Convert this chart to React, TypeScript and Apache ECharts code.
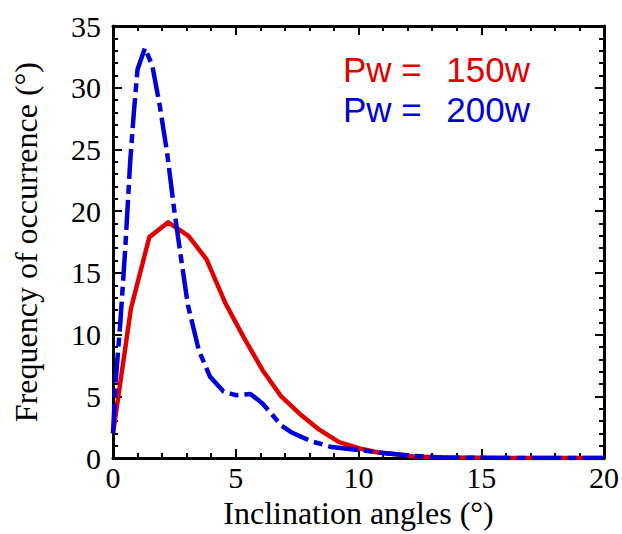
import React, { useEffect, useRef } from "react";
import * as echarts from "echarts";

const redX = [0, 0.73, 1.48, 2.25, 3.07, 3.81, 4.59, 5.32, 6.1, 6.85, 7.6, 8.4, 9.21, 10.0, 10.8, 11.65, 12.3, 13.5, 15, 20];
const redY = [2, 12.1, 17.9, 19.1, 18.0, 16.1, 12.5, 9.8, 7.1, 5.0, 3.6, 2.3, 1.3, 0.8, 0.45, 0.3, 0.12, 0.05, 0.02, 0];

const blueX = [0, 0.1, 0.3, 0.5, 0.7, 0.85, 1.0, 1.3, 1.6, 1.9, 2.2, 2.5, 2.75, 3.05, 3.5, 3.95, 4.5, 5.0, 5.6, 6.1, 6.45, 6.85, 7.3, 8.1, 8.9, 10.0, 11.1, 12.2, 13.4, 15.2, 20];
const blueY = [2, 6, 11, 17, 24, 28, 31.5, 33.2, 31.8, 28.6, 24.8, 20, 16.5, 12.4, 8.7, 6.6, 5.4, 5.1, 5.2, 4.4, 3.6, 2.65, 2.05, 1.35, 0.9, 0.66, 0.4, 0.18, 0.05, 0.02, 0];

const seriesNames = ["Pw = 150w", "Pw = 200w"];
const legendLeft = ["Pw =", "Pw ="];
const legendRight = ["150w", "200w"];
const colors = ["#e00000", "#0000d8"];

const xTitle = "Inclination angles (°)";
const yTitle = "Frequency of occurrence (°)";

export default function App() {
  const ref = useRef<HTMLDivElement>(null);
  useEffect(() => {
    document.body.style.margin = "0";
    const chart = echarts.init(ref.current!, null, { renderer: "svg" });
    const serif = "'Liberation Serif', 'Times New Roman', serif";
    const sans = "'Liberation Sans', Arial, sans-serif";
    const axisCommon = {
      axisLine: { show: true, onZero: false, lineStyle: { color: "#000", width: 3 } },
      axisTick: { show: true, inside: true, length: 9, lineStyle: { color: "#000", width: 2 } },
      minorTick: { show: true, splitNumber: 5, length: 5, lineStyle: { color: "#000", width: 2 } },
      splitLine: { show: false },
    };
    chart.setOption({
      animation: false,
      grid: { left: 113, right: 16, top: 26, bottom: 69 },
      xAxis: [
        {
          type: "value", min: 0, max: 20, interval: 5, ...axisCommon,
          name: xTitle, nameLocation: "middle", nameGap: 25,
          nameTextStyle: { fontFamily: serif, fontSize: 32, color: "#000" },
          axisLabel: { fontFamily: serif, fontSize: 30, color: "#000", margin: 4 },
        },
        {
          type: "value", min: 0, max: 20, interval: 5, position: "top", ...axisCommon,
          axisLabel: { show: false },
        },
      ],
      yAxis: [
        {
          type: "value", min: 0, max: 35, interval: 5, ...axisCommon,
          name: yTitle, nameLocation: "middle", nameGap: 71,
          nameTextStyle: { fontFamily: serif, fontSize: 32, color: "#000" },
          axisLabel: { fontFamily: serif, fontSize: 30, color: "#000", margin: 12 },
        },
        {
          type: "value", min: 0, max: 35, interval: 5, position: "right", ...axisCommon,
          axisLabel: { show: false },
        },
      ],
      series: [
        {
          name: seriesNames[0], type: "line", showSymbol: false,
          data: redX.map((x, i) => [x, redY[i]]),
          lineStyle: { color: colors[0], width: 4.5, join: "round" },
          z: 3,
        },
        {
          name: seriesNames[1], type: "line", showSymbol: false,
          data: blueX.map((x, i) => [x, blueY[i]]),
          lineStyle: { color: colors[1], width: 4.5, type: [30, 6, 9, 6] },
          z: 4,
        },
      ],
      graphic: [0, 1].flatMap((i) => [
        {
          type: "text", left: 343, top: 52 + i * 40,
          style: { text: legendLeft[i], fill: colors[i], font: `35px ${sans}` },
        },
        {
          type: "text", right: 92, top: 52 + i * 40,
          style: { text: legendRight[i], fill: colors[i], font: `35px ${sans}` },
        },
      ]),
    });
    return () => chart.dispose();
  }, []);
  return <div ref={ref} style={{ width: 622, height: 534 }} />;
}
